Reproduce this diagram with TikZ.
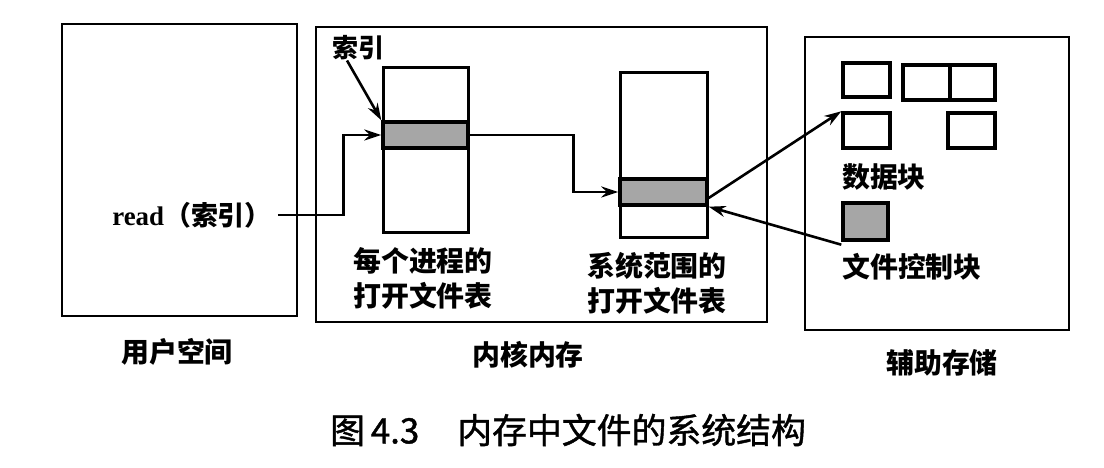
\documentclass[tikz,border=0pt]{standalone}
\usepackage{fontspec}
\setmainfont{Liberation Serif}
\newfontfamily\cjk{Noto Sans CJK SC}
\newfontfamily\capfont[FakeBold=1.2]{Noto Sans CJK SC}
\usetikzlibrary{arrows.meta,calc}
\begin{document}
\begin{tikzpicture}[x=1bp,y=-1bp,
  outer/.style={draw,line width=2.4bp,inner sep=0pt},
  tbl/.style={draw,line width=3bp,inner sep=0pt},
  band/.style={draw,line width=3.4bp,fill=black!35,inner sep=0pt},
  blk/.style={draw,line width=3.4bp,inner sep=0pt},
  lbl/.style={font=\cjk\bfseries\fontsize{28}{35}\selectfont,align=center,inner sep=0pt},
  arr/.style={line width=2.6bp,-{Stealth[length=17bp,width=11bp]}}]
\useasboundingbox (0,0) rectangle (1104,468);
% containers
\node[outer,minimum width=235bp,minimum height=292bp] (user) at (179.5,170) {};
\node[outer,minimum width=451bp,minimum height=295bp] (kernel) at (541.5,174.5) {};
\node[outer,minimum width=264bp,minimum height=293bp] (aux) at (937,183.5) {};
% tables
\node[tbl,minimum width=85bp,minimum height=165bp] (t1) at (425.5,150.5) {};
\node[band,minimum width=85bp,minimum height=26bp] (b1) at (425.5,135) {};
\node[tbl,minimum width=87bp,minimum height=165bp] (t2) at (663.5,155.5) {};
\node[band,minimum width=87bp,minimum height=26bp] (b2) at (663.5,192) {};
% data blocks
\node[blk,minimum width=47bp,minimum height=34bp] (d1) at (866.5,80) {};
\node[blk,minimum width=47bp,minimum height=35bp] (d2) at (926.5,82.5) {};
\node[blk,minimum width=45bp,minimum height=35bp] (d3) at (972.5,82.5) {};
\node[blk,minimum width=47bp,minimum height=35bp] (d4) at (866.5,130.5) {};
\node[blk,minimum width=47bp,minimum height=35bp] (d5) at (971.5,130.5) {};
\node[blk,fill=black!35,minimum width=45bp,minimum height=37bp] (fcb) at (865.5,221.5) {};
% labels
\node[lbl,font=\cjk\bfseries\fontsize{26}{30}\selectfont] (idx) at (358,48) {索引};
\node[inner sep=0pt] (read) at (192,215) {\fontsize{27}{30}\selectfont\bfseries read\cjk （索引）};
\node[lbl] (l1) at (423,278) {每个进程的\\打开文件表};
\node[lbl] (l2) at (657,283) {系统范围的\\打开文件表};
\node[lbl] (ldata) at (884,177) {数据块};
\node[lbl] (lfcb) at (912,267) {文件控制块};
\node[lbl] (luser) at (177,352) {用户空间};
\node[lbl] (lkern) at (528,355) {内核内存};
\node[lbl] (laux) at (942,363) {辅助存储};
\node[anchor=west,inner sep=0pt,font=\capfont\fontsize{35}{40}\selectfont] (cap) at (330,430) {图\,4.3\hspace{38bp}内存中文件的系统结构};
% connectors
\draw[arr] ([xshift=-11bp]idx.south) -- (b1.north west);
\draw[arr] ([xshift=6bp]read.east) -| ([xshift=-38bp]b1.west) -- (b1.west);
\draw[arr] (b1.east) -| ([xshift=-45bp]b2.west) -- (b2.west);
\draw[arr] ([yshift=-6bp]b2.east) -- (d4.north west);
\draw[arr] ([yshift=-3bp]fcb.south west) -- (b2.south east);
\end{tikzpicture}
\end{document}
